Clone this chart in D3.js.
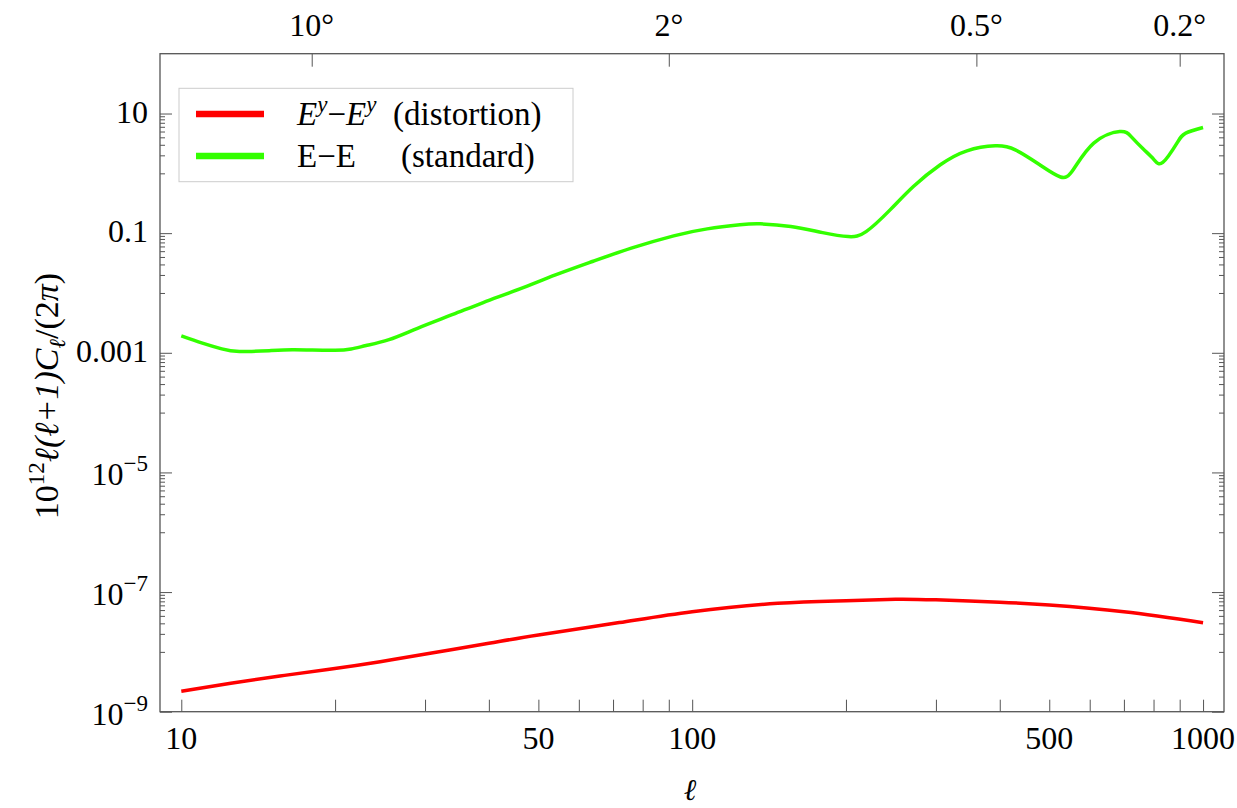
<!DOCTYPE html>
<html>
<head>
<meta charset="utf-8">
<script src="https://cdn.jsdelivr.net/npm/d3@7"></script>
<style>
  body { margin: 0; background: #fff; }
  text { font-family: "Liberation Serif", "Times New Roman", serif; fill: #000; }
</style>
</head>
<body>
<svg id="chart" width="1237" height="808"></svg>
<script>
// E-E standard spectrum
const ellStd = [10, 11, 12, 13, 15, 16.5, 18, 20, 21.5, 23, 25.5, 29, 34, 39, 46, 54, 64, 76, 92,
  107, 124, 136, 156, 180, 202, 219, 244, 271, 306, 345, 392, 429, 479, 526, 557, 611, 687, 724,
  763, 800, 834, 889, 925, 1000];
const clStd = [1.92e-3, 1.45e-3, 1.16e-3, 1.05e-3, 1.09e-3, 1.12e-3, 1.11e-3, 1.10e-3, 1.16e-3, 1.32e-3,
  1.66e-3, 2.57e-3, 4.37e-3, 6.92e-3, 1.17e-2, 2.0e-2, 3.39e-2, 5.62e-2, 9.02e-2,
  0.118, 0.138, 0.143, 0.129, 0.102, 0.0877, 0.106, 0.245, 0.603, 1.39, 2.38, 2.88, 2.47, 1.39, 0.87,
  1.15, 3.2, 5.0, 4.07, 2.57, 1.73, 1.52, 3.2, 4.7, 5.83];

// E^y-E^y distortion spectrum
const ellDist = [10, 12.5, 15.6, 19.5, 24.5, 30.7, 40, 50, 72, 100, 147, 200, 250, 300, 400, 500, 700, 1000];
const clDist = [2.19e-9, 2.99e-9, 3.95e-9, 5.12e-9, 6.86e-9, 9.48e-9, 1.39e-8, 1.92e-8, 3.09e-8, 4.70e-8,
  6.50e-8, 7.18e-8, 7.59e-8, 7.41e-8, 6.76e-8, 6.08e-8, 4.70e-8, 3.08e-8];

const xLabelTicks = [10, 50, 100, 500, 1000];
const yMajorTicks = [10, 0.1, 1e-3, 1e-5, 1e-7, 1e-9];
const yTickBase = ["10", "0.1", "0.001", "10", "10", "10"];
const yTickExp = [null, null, null, "\u22125", "\u22127", "\u22129"];
const degTicks = [10, 2, 0.5, 0.2];

const svg = d3.select("#chart");
const mLeft = 160, mRight = 1224, mTop = 53.7, mBottom = 711.7;

const x = d3.scaleLog().domain([9.085, 1099]).range([mLeft, mRight]);
const y = d3.scaleLog().domain([1e-9, 100]).range([mBottom, mTop]);

const frameColor = "#555";

// minor ticks
const xTicks = [];
for (let k = 1; k <= 2; k++) for (let m = 1; m <= 9; m++) xTicks.push(m * Math.pow(10, k));
xTicks.push(1000);

const yMinor = [];
yMajorTicks.forEach(v => {
  for (let m = 1; m <= 9; m++) {
    const t = m * v / 10;
    if (t >= 1e-9) yMinor.push(t);
  }
});

function styleAxis(g) {
  g.select(".domain").remove();
  g.selectAll(".tick line").attr("stroke", frameColor).attr("stroke-width", 1);
  g.selectAll(".tick text").remove();
}

svg.append("g").attr("transform", `translate(0,${mBottom})`)
  .call(d3.axisBottom(x).tickValues(xTicks).tickSize(-12).tickSizeOuter(0))
  .call(styleAxis);

svg.append("g").attr("transform", `translate(0,${mTop})`)
  .call(d3.axisTop(x).tickValues(degTicks.map(d => 180 / d)).tickSize(-13).tickSizeOuter(0))
  .call(styleAxis);

[[mLeft, d3.axisLeft], [mRight, d3.axisRight]].forEach(([px, ax]) => {
  svg.append("g").attr("transform", `translate(${px},0)`)
    .call(ax(y).tickValues(yMajorTicks).tickSize(-12).tickSizeOuter(0)).call(styleAxis);
  svg.append("g").attr("transform", `translate(${px},0)`)
    .call(ax(y).tickValues(yMinor).tickSize(-5).tickSizeOuter(0)).call(styleAxis);
});

// frame
svg.append("rect")
  .attr("x", mLeft).attr("y", mTop)
  .attr("width", mRight - mLeft).attr("height", mBottom - mTop)
  .attr("fill", "none").attr("stroke", frameColor).attr("stroke-width", 1.3);

// bottom labels
svg.selectAll(".xl").data(xLabelTicks).enter().append("text")
  .attr("x", d => x(d)).attr("y", mBottom + 37)
  .attr("text-anchor", "middle").attr("font-size", 32)
  .text(d => d);

// top labels
svg.selectAll(".tl").data(degTicks).enter().append("text")
  .attr("x", d => x(180 / d)).attr("y", 36)
  .attr("text-anchor", "middle").attr("font-size", 32)
  .text(d => d + "\u00b0");

// left labels
yMajorTicks.forEach((v, i) => {
  const t = svg.append("text")
    .attr("x", 148).attr("y", y(v) + (yTickExp[i] ? 13 : 9))
    .attr("text-anchor", "end").attr("font-size", 32);
  t.append("tspan").text(yTickBase[i]);
  if (yTickExp[i]) t.append("tspan").attr("font-size", 23).attr("dy", -14).text(yTickExp[i]);
});

// axis titles
svg.append("text").attr("x", 690).attr("y", 800)
  .attr("text-anchor", "middle").attr("font-size", 30).attr("font-style", "italic").text("\u2113");

const yt = svg.append("text")
  .attr("transform", "translate(58,396) rotate(-90)")
  .attr("text-anchor", "middle").attr("font-size", 34);
yt.append("tspan").text("10");
yt.append("tspan").attr("font-size", 23).attr("dy", -14).text("12");
yt.append("tspan").attr("dy", 14).attr("font-style", "italic").text("\u2113(\u2113+1)C");
yt.append("tspan").attr("font-size", 23).attr("dy", 7).attr("font-style", "italic").text("\u2113");
yt.append("tspan").attr("dy", -7).text("/(2");
yt.append("tspan").attr("font-style", "italic").text("\u03c0");
yt.append("tspan").text(")");

// curves
svg.append("clipPath").attr("id", "clip").append("rect")
  .attr("x", mLeft).attr("y", mTop).attr("width", mRight - mLeft).attr("height", mBottom - mTop);

const line = d3.line().x(d => x(d[0])).y(d => y(d[1])).curve(d3.curveNatural);

svg.append("path").datum(d3.zip(ellDist, clDist))
  .attr("clip-path", "url(#clip)")
  .attr("d", line).attr("fill", "none").attr("stroke", "#ff0000").attr("stroke-width", 3.5);

svg.append("path").datum(d3.zip(ellStd, clStd))
  .attr("clip-path", "url(#clip)")
  .attr("d", line).attr("fill", "none").attr("stroke", "#33ff00").attr("stroke-width", 3.5);

// legend
const lg = svg.append("g");
lg.append("rect").attr("x", 179).attr("y", 88.3).attr("width", 394).attr("height", 93.4)
  .attr("fill", "#fff").attr("stroke", "#ccc").attr("stroke-width", 1);
const legendRows = [
  { color: "#ff0000", y: 114 },
  { color: "#33ff00", y: 156 }
];
lg.selectAll(".ll").data(legendRows).enter().append("line")
  .attr("x1", 196).attr("x2", 264)
  .attr("y1", d => d.y).attr("y2", d => d.y)
  .attr("stroke", d => d.color).attr("stroke-width", 6.5);

const r1 = lg.append("text").attr("x", 297).attr("y", 125).attr("font-size", 33);
r1.append("tspan").attr("font-style", "italic").text("E");
r1.append("tspan").attr("font-style", "italic").attr("font-size", 23).attr("dy", -13).text("y");
r1.append("tspan").attr("dy", 13).text("\u2212");
r1.append("tspan").attr("font-style", "italic").text("E");
r1.append("tspan").attr("font-style", "italic").attr("font-size", 23).attr("dy", -13).text("y");
lg.append("text").attr("x", 393).attr("y", 125).attr("font-size", 33).text("(distortion)");

lg.append("text").attr("x", 297).attr("y", 167).attr("font-size", 33).text("E\u2212E");
lg.append("text").attr("x", 401).attr("y", 167).attr("font-size", 33).text("(standard)");
</script>
</body>
</html>
